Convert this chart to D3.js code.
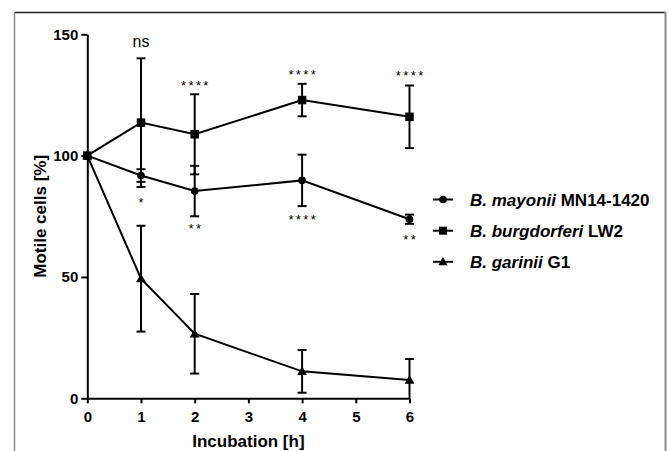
<!DOCTYPE html>
<html>
<head>
<meta charset="utf-8">
<script src="https://d3js.org/d3.v7.min.js"></script>
<style>
  body { margin: 0; background: #fff; }
  text { font-family: "Liberation Sans", Arial, sans-serif; }
</style>
</head>
<body>
<div id="my_dataviz"></div>
<script>

// time points (hours)
var hours = [0, 1, 2, 4, 6];

// mean motile cells [%] and error (sd) per strain
var mayonii = [100, 91.8, 85.4, 89.8, 73.8];
var mayoniiErr = [0, 2.6, 10.4, 10.6, 1.9];
var burgdorferi = [100, 113.6, 108.8, 122.9, 116.0];
var burgdorferiErr = [0, 26.5, 16.5, 6.7, 12.9];
var garinii = [100, 49.3, 26.6, 11.1, 7.5];
var gariniiErr = [0, 21.8, 16.4, 8.8, 8.7];

// legend names
var speciesNames = ["B. mayonii", "B. burgdorferi", "B. garinii"];
var strainNames = ["MN14-1420", "LW2", "G1"];
var markerTypes = ["circle", "square", "triangle"];

// significance labels (x in hours, y = baseline in data units)
var sigTopX = [1, 2, 4, 6];
var sigTopLabel = ["ns", "****", "****", "****"];
var sigTopY = [144.8, 127.2, 131.7, 131.0];
var sigBottomX = [1, 2, 4, 6];
var sigBottomLabel = ["*", "**", "****", "**"];
var sigBottomY = [78.8, 68.1, 71.9, 63.7];

// tick values
var xTicks = [0, 1, 2, 3, 4, 5, 6];
var yTicks = [0, 50, 100, 150];

var W = 669, H = 451;
var margin = {top: 34.3, left: 87.3},
    width = 322.2,
    height = 364;

var svg = d3.select("#my_dataviz")
  .append("svg")
    .attr("width", W)
    .attr("height", H);

// figure frame
svg.append("line").attr("x1", 14.5).attr("x2", 665.5).attr("y1", 12.5).attr("y2", 12.5)
  .attr("stroke", "#222").attr("stroke-width", 1.5);
svg.append("line").attr("x1", 14.5).attr("x2", 14.5).attr("y1", 12).attr("y2", H)
  .attr("stroke", "#888").attr("stroke-width", 1.5);
svg.append("line").attr("x1", 665.5).attr("x2", 665.5).attr("y1", 12).attr("y2", H)
  .attr("stroke", "#888").attr("stroke-width", 2);

var g = svg.append("g")
  .attr("transform", "translate(" + margin.left + "," + margin.top + ")");

var x = d3.scaleLinear().domain([0, 6]).range([0, width]);
var y = d3.scaleLinear().domain([0, 150]).range([height, 0]);

// axes
var xAxis = g.append("g")
  .attr("transform", "translate(0," + height + ")")
  .call(d3.axisBottom(x).tickValues(xTicks).tickFormat(d3.format("d")).tickSize(5).tickSizeOuter(0).tickPadding(8));
var yAxis = g.append("g")
  .call(d3.axisLeft(y).tickValues(yTicks).tickSize(6).tickSizeOuter(0).tickPadding(3));

[xAxis, yAxis].forEach(function(a) {
  a.selectAll("path, line").attr("stroke", "#000").attr("stroke-width", 2);
  a.selectAll("text")
    .attr("fill", "#000")
    .style("font-size", "15px")
    .style("font-weight", "bold")
    .style("font-family", "'Liberation Sans', Arial, sans-serif");
});

// axis titles
g.append("text")
  .attr("x", width / 2)
  .attr("y", 413)
  .attr("text-anchor", "middle")
  .style("font-size", "17px")
  .style("font-weight", "bold")
  .text("Incubation [h]");

g.append("text")
  .attr("transform", "rotate(-90)")
  .attr("x", -height / 2)
  .attr("y", -41)
  .attr("text-anchor", "middle")
  .style("font-size", "17px")
  .style("font-weight", "bold")
  .text("Motile cells [%]");

// marker drawing
function drawMarker(sel, type, cx, cy, s) {
  if (type === "circle") {
    sel.append("circle").attr("cx", cx).attr("cy", cy).attr("r", s * 0.45).attr("fill", "#000");
  } else if (type === "square") {
    sel.append("rect").attr("x", cx - s / 2).attr("y", cy - s / 2)
      .attr("width", s).attr("height", s).attr("fill", "#000");
  } else {
    var h = s * 0.95;
    sel.append("path")
      .attr("d", "M" + cx + "," + (cy - h * 0.62) + "L" + (cx + s * 0.58) + "," + (cy + h * 0.45) +
                 "L" + (cx - s * 0.58) + "," + (cy + h * 0.45) + "Z")
      .attr("fill", "#000");
  }
}

var series = [
  {vals: mayonii, err: mayoniiErr, type: "circle"},
  {vals: burgdorferi, err: burgdorferiErr, type: "square"},
  {vals: garinii, err: gariniiErr, type: "triangle"}
];

var line = d3.line()
  .x(function(d) { return x(d[0]); })
  .y(function(d) { return y(d[1]); });

series.forEach(function(s) {
  var pts = hours.map(function(h, i) { return [h, s.vals[i]]; });
  var sg = g.append("g");

  // error bars
  hours.forEach(function(h, i) {
    if (s.err[i] === 0) return;
    var hi = s.vals[i] + s.err[i];
    var lo = Math.max(0, s.vals[i] - s.err[i]);
    var px = x(h);
    sg.append("line").attr("x1", px).attr("x2", px).attr("y1", y(hi)).attr("y2", y(lo))
      .attr("stroke", "#000").attr("stroke-width", 2);
    sg.append("line").attr("x1", px - 4.5).attr("x2", px + 4.5).attr("y1", y(hi)).attr("y2", y(hi))
      .attr("stroke", "#000").attr("stroke-width", 2);
    if (lo > 0) {
      sg.append("line").attr("x1", px - 4.5).attr("x2", px + 4.5).attr("y1", y(lo)).attr("y2", y(lo))
        .attr("stroke", "#000").attr("stroke-width", 2);
    }
  });

  sg.append("path")
    .datum(pts)
    .attr("d", line)
    .attr("fill", "none")
    .attr("stroke", "#000")
    .attr("stroke-width", 2);

  pts.forEach(function(p) {
    drawMarker(sg, s.type, x(p[0]), y(p[1]), s.type === "circle" ? 17 * 0.5 : 8.5);
  });
});

// significance labels
sigTopX.forEach(function(h, i) {
  var isNs = sigTopLabel[i] === "ns";
  g.append("text")
    .attr("x", x(h) + (isNs ? 0 : 1.2))
    .attr("y", y(sigTopY[i]))
    .attr("text-anchor", "middle")
    .style("font-size", isNs ? "16px" : "13px")
    .style("letter-spacing", isNs ? "0px" : "2.4px")
    .text(sigTopLabel[i]);
});
sigBottomX.forEach(function(h, i) {
  g.append("text")
    .attr("x", x(h) + 1.2)
    .attr("y", y(sigBottomY[i]))
    .attr("text-anchor", "middle")
    .style("font-size", "13px")
    .style("letter-spacing", "2.4px")
    .text(sigBottomLabel[i]);
});

// legend
var legendY = [199.5, 230.7, 261.8];
var legend = svg.append("g");
speciesNames.forEach(function(name, i) {
  legend.append("line")
    .attr("x1", 433).attr("x2", 453)
    .attr("y1", legendY[i]).attr("y2", legendY[i])
    .attr("stroke", "#000").attr("stroke-width", 2);
  drawMarker(legend, markerTypes[i], 443, legendY[i], markerTypes[i] === "circle" ? 8.5 : 8);
  var t = legend.append("text")
    .attr("x", 470)
    .attr("y", legendY[i] + 6)
    .style("font-size", "17px")
    .style("font-weight", "bold");
  t.append("tspan").style("font-style", "italic").text(name);
  t.append("tspan").text(" " + strainNames[i]);
});

</script>
</body>
</html>
